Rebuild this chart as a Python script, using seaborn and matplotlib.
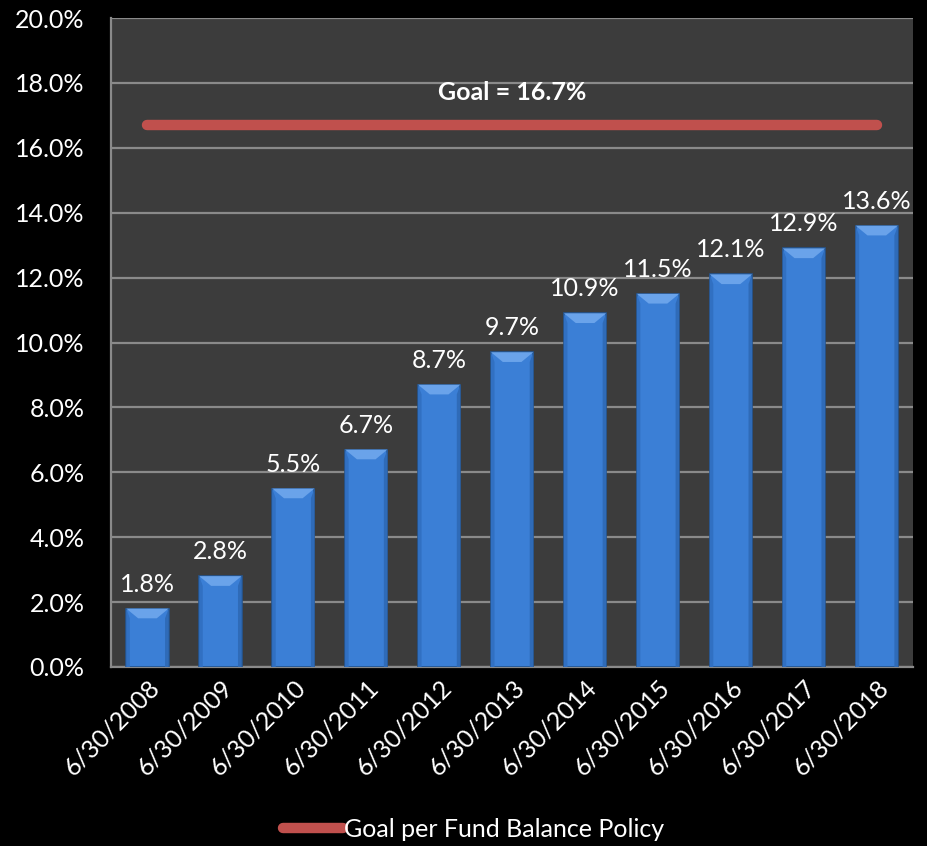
import matplotlib
matplotlib.use('Agg')
import matplotlib.pyplot as plt
import seaborn as sns
import pandas as pd
from matplotlib.patches import Polygon
from matplotlib.lines import Line2D

# data
dates = ['6/30/2008', '6/30/2009', '6/30/2010', '6/30/2011', '6/30/2012', '6/30/2013',
         '6/30/2014', '6/30/2015', '6/30/2016', '6/30/2017', '6/30/2018']
balance_pct = [1.8, 2.8, 5.5, 6.7, 8.7, 9.7, 10.9, 11.5, 12.1, 12.9, 13.6]
goal_pct = 16.7
yticks = [0, 2, 4, 6, 8, 10, 12, 14, 16, 18, 20]

df = pd.DataFrame({'date': dates, 'pct': balance_pct})

sns.set_theme(style='dark')
plt.rcParams['font.family'] = ['Lato', 'DejaVu Sans']
FS = 18

fig = plt.figure(figsize=(9.28, 8.46), dpi=100, facecolor='black')
ax = fig.add_axes([0.1196, 0.2116, 0.8645, 0.7671])
ax.set_facecolor('#3c3c3c')

sns.barplot(data=df, x='date', y='pct', color='#3b7fd6', width=0.58,
            saturation=1, edgecolor='#25558f', linewidth=1.2, ax=ax, zorder=3)

# bevel highlight on top of each bar
for p in ax.patches:
    x0, w, h = p.get_x(), p.get_width(), p.get_height()
    d = w * 0.28
    dh = 0.3
    top = Polygon([(x0, h), (x0 + w, h), (x0 + w - d, h - dh), (x0 + d, h - dh)],
                  closed=True, facecolor='#6aa3ea', edgecolor='none', zorder=4)
    ax.add_patch(top)
    left = Polygon([(x0, h), (x0 + d * 0.3, h - dh), (x0 + d * 0.3, 0), (x0, 0)],
                   closed=True, facecolor='#3170c2', edgecolor='none', zorder=4)
    ax.add_patch(left)
    right = Polygon([(x0 + w, h), (x0 + w - d * 0.3, h - dh), (x0 + w - d * 0.3, 0), (x0 + w, 0)],
                    closed=True, facecolor='#2f6bb8', edgecolor='none', zorder=4)
    ax.add_patch(right)

# goal line
ax.plot([0, len(dates) - 1], [goal_pct, goal_pct], color='#c0504d', lw=7.5,
        solid_capstyle='round', zorder=5)
ax.text((len(dates) - 1) / 2, 17.7, f'Goal = {goal_pct}%', color='white',
        fontsize=FS, fontweight='bold', ha='center', va='center', zorder=6)

# value labels
for i, v in enumerate(balance_pct):
    ax.text(i, v + 0.4, f'{v}%', color='white', fontsize=FS,
            ha='center', va='bottom', zorder=6)

ax.set_ylim(0, 20)
ax.set_xlim(-0.5, len(dates) - 0.5)
ax.set_yticks(yticks)
ax.set_yticklabels([f'{t:.1f}%' for t in yticks])
ax.yaxis.grid(True, color='#8a8a8a', lw=1.6, zorder=0)
ax.xaxis.grid(False)
ax.set_axisbelow(True)
ax.set_xlabel('')
ax.set_ylabel('')
ax.tick_params(axis='y', colors='white', labelsize=FS, length=0, pad=19)
ax.tick_params(axis='x', colors='white', labelsize=FS, length=0, pad=6)
for lab in ax.get_xticklabels():
    lab.set_rotation(45)
    lab.set_ha('right')
    lab.set_rotation_mode('anchor')

for s in ['top', 'right']:
    ax.spines[s].set_visible(False)
for s in ['left', 'bottom']:
    ax.spines[s].set_color('#8a8a8a')
    ax.spines[s].set_linewidth(1.6)

handle = Line2D([], [], color='#c0504d', lw=7.5, solid_capstyle='round')
leg = fig.legend([handle], ['Goal per Fund Balance Policy'], loc='center',
                 bbox_to_anchor=(0.51, 0.02), frameon=False, fontsize=FS,
                 handlelength=2.4, handletextpad=0.05)
for t in leg.get_texts():
    t.set_color('white')

fig.savefig('out.png', dpi=100, facecolor='black')
